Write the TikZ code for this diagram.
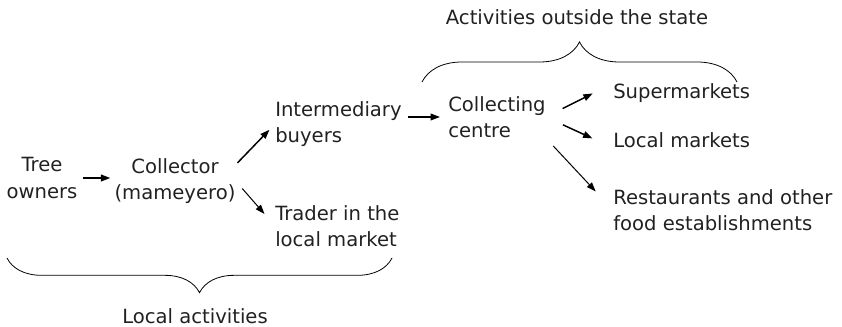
\documentclass[tikz,border=0pt]{standalone}
\usepackage{fontspec}
\setmainfont{DejaVu Sans}
\usetikzlibrary{arrows.meta,decorations.pathreplacing}

\begin{document}
\begin{tikzpicture}[x=0.75pt,y=-0.75pt,
    every node/.style={inner sep=0pt,text=black!87,font=\fontsize{14.7}{19.9}\selectfont},
    >={Triangle[length=7pt,width=5pt]},
    link/.style={->,line width=1.1pt},
    brace/.style={decorate,decoration={brace,amplitude=#1},line width=0.6pt}]
\useasboundingbox (0,0) rectangle (842,327);

% who handles the fruit
\node[align=center] (tree) at (42,178) {Tree\\owners};
\node[align=center] (collector) at (175,181) {Collector\\(mameyero)};
\node[align=left,anchor=west] (inter) at (275,124) {Intermediary\\buyers};
\node[align=left,anchor=west] (trader) at (275,226) {Trader in the\\local market};
\node[align=left,anchor=west] (centre) at (448,117) {Collecting\\centre};
\node[anchor=west] (super) at (613,93) {Supermarkets};
\node[anchor=west] (local) at (613,140) {Local markets};
\node[align=left,anchor=west] (rest) at (613,210) {Restaurants and other\\food establishments};

% group labels
\node (outside) at (577,17) {Activities outside the state};
\node (localact) at (195,316) {Local activities};

\draw[link,shorten <=4pt,shorten >=3pt] (tree.east) -- (tree.east -| collector.west);
\draw[link,shorten <=2pt,shorten >=6pt] (collector.15) -- (inter.west);
\draw[link,line width=0.75pt,shorten <=7.5pt,shorten >=12pt] (collector.east) -- (trader.west);
\draw[link,shorten <=4.5pt,shorten >=6pt] (inter.east |- centre.west) -- (centre.west);
\draw[link,shorten <=14pt,shorten >=17pt] (centre.east) -- (super.north west);
\draw[link,shorten <=14pt,shorten >=17pt] (centre.east) -- (local.south west);
\draw[link,line width=0.75pt,shorten <=8pt,shorten >=19pt] (centre.south east) -- (rest.west);

\draw[brace=30pt] (422,82) -- (737,82);
\draw[brace=26pt] (392,258) -- (7,258);
\end{tikzpicture}
\end{document}
